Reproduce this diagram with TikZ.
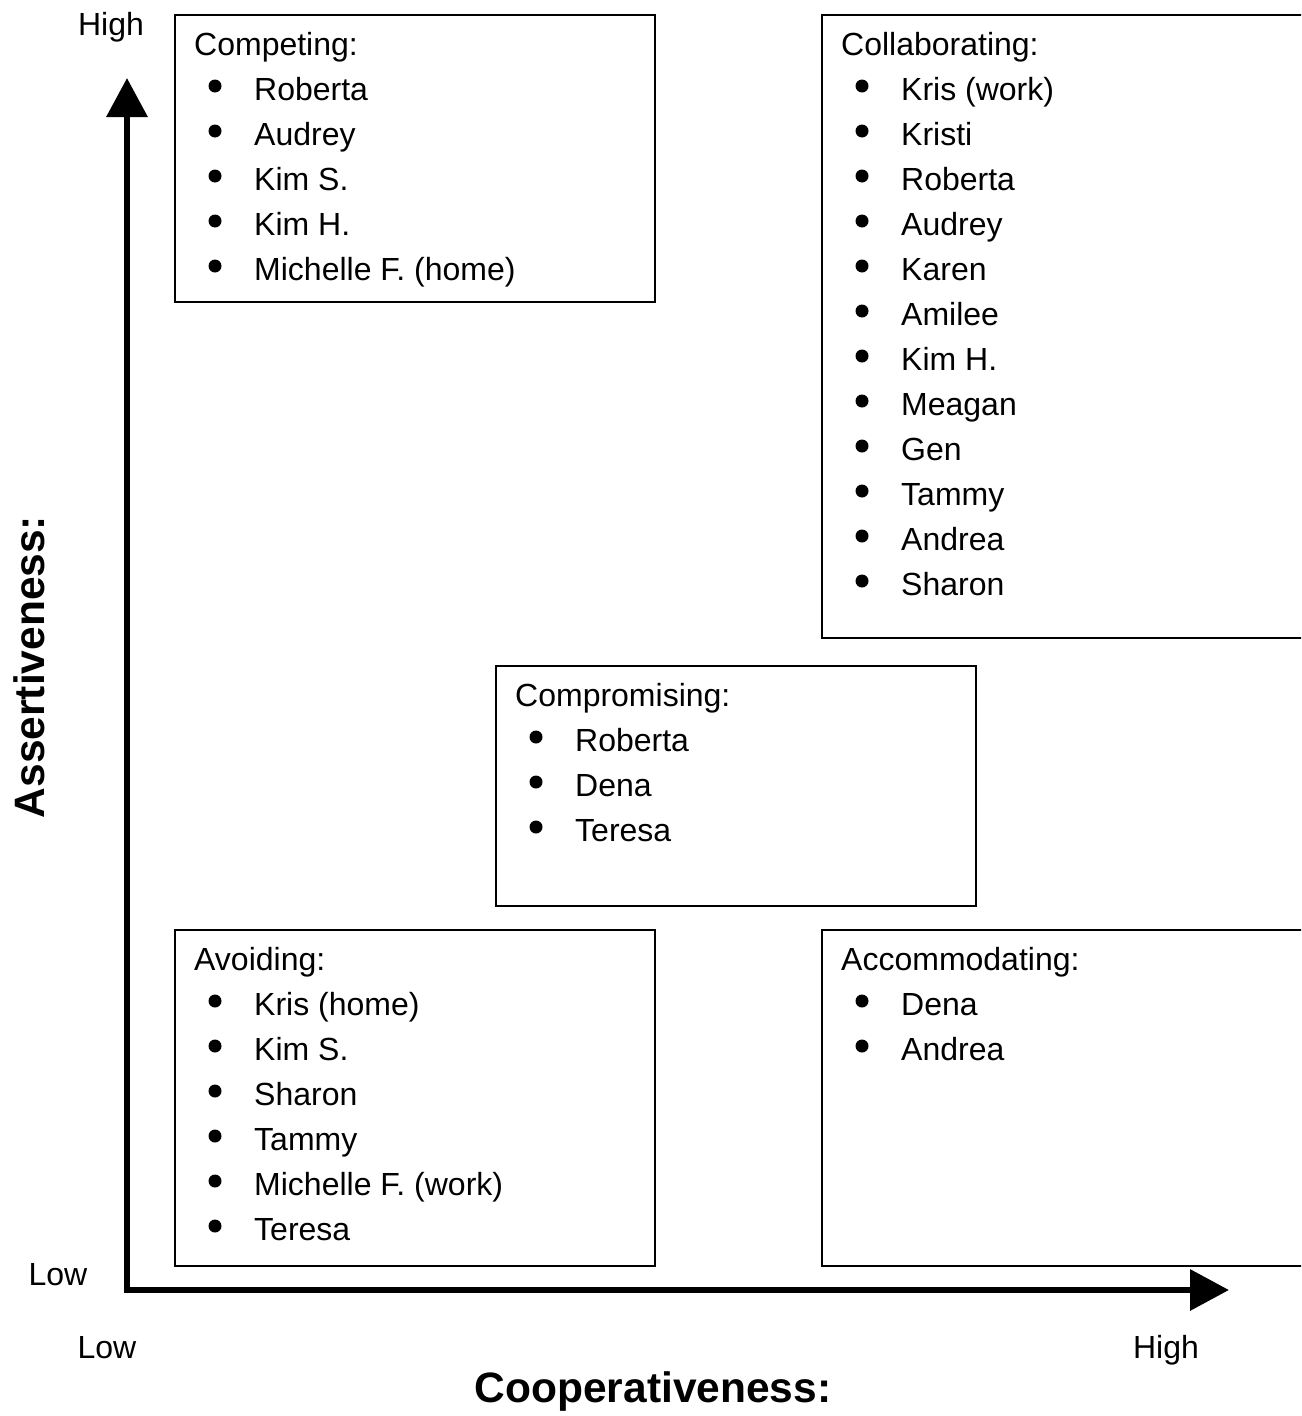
\documentclass[tikz,border=0pt]{standalone}
\usepackage{fontspec}
\setmainfont{Liberation Sans}
\usetikzlibrary{arrows.meta, positioning, calc}

\newcommand{\bodyfont}{\fontsize{32}{45}\selectfont}
\newcommand{\axisfont}{\fontsize{42.5}{50}\selectfont\bfseries}

\tikzset{
  panel/.style={draw, line width=2.2pt, minimum width=480pt, anchor=north west, inner sep=0pt},
  heading/.style={anchor=base west, inner sep=0pt, font=\bodyfont},
  entry/.style={anchor=base west, inner sep=0pt, font=\bodyfont},
  bulletdot/.style={circle, fill, inner sep=0pt, minimum size=13pt},
  ticklabel/.style={anchor=base, inner sep=0pt, font=\bodyfont},
  axislabel/.style={inner sep=0pt, font=\axisfont},
}

% title and bulleted names inside one panel
\newcommand{\fillpanel}[3]{%
  \node[heading] (#1-title) at ([shift={(20,41)}]#1.north west) {#2};
  \foreach \who [count=\k] in {#3} {
    \node[bulletdot] (#1-dot\k) at ([shift={(41,27+45*\k)}]#1.north west) {};
    \node[entry] (#1-name\k) at ([shift={(80,41+45*\k)}]#1.north west) {\who};
  }%
}

\begin{document}
\begin{tikzpicture}[x=1pt, y=-1pt]
  \useasboundingbox (0,0) rectangle (1301,1416);
  \clip (0,0) rectangle (1301,1416);

  % the five styles
  \node[panel, minimum height=287pt] (competing) at (174,14) {};
  \node[panel, minimum width=500pt, minimum height=623pt] (collab) at (821,14) {};
  \node[panel, minimum height=240pt] (compromise) at (495,665) {};
  \node[panel, minimum height=336pt] (avoiding) at (174,929) {};
  \node[panel, minimum width=500pt, minimum height=336pt] (accommodate) at (821,929) {};

  \fillpanel{competing}{Competing:}{Roberta, Audrey, Kim S., Kim H., Michelle F. (home)}
  \fillpanel{collab}{Collaborating:}{Kris (work), Kristi, Roberta, Audrey, Karen, Amilee,
    Kim H., Meagan, Gen, Tammy, Andrea, Sharon}
  \fillpanel{compromise}{Compromising:}{Roberta, Dena, Teresa}
  \fillpanel{avoiding}{Avoiding:}{Kris (home), Kim S., Sharon, Tammy, Michelle F. (work), Teresa}
  \fillpanel{accommodate}{Accommodating:}{Dena, Andrea}

  % axes
  \coordinate (origin) at (127,1290);
  \coordinate (ytip) at (127,78);
  \coordinate (xtip) at (1229,1290);
  \draw[line width=6.5pt, {Triangle[length=39pt, width=40pt]}-{Triangle[length=39pt, width=40pt]}]
    (ytip) -- (origin) -- (xtip);

  \node[ticklabel] (yhigh) at (111,35) {High};
  \node[ticklabel] (ylow) at (58,1285) {Low};
  \node[ticklabel] (xlow) at (107,1358) {Low};
  \node[ticklabel] (xhigh) at (1166,1358) {High};
  \node[axislabel, anchor=base] (xname) at (653,1402) {Cooperativeness:};
  \node[axislabel, rotate=90] (yname) at (29,667) {Assertiveness:};
\end{tikzpicture}
\end{document}
